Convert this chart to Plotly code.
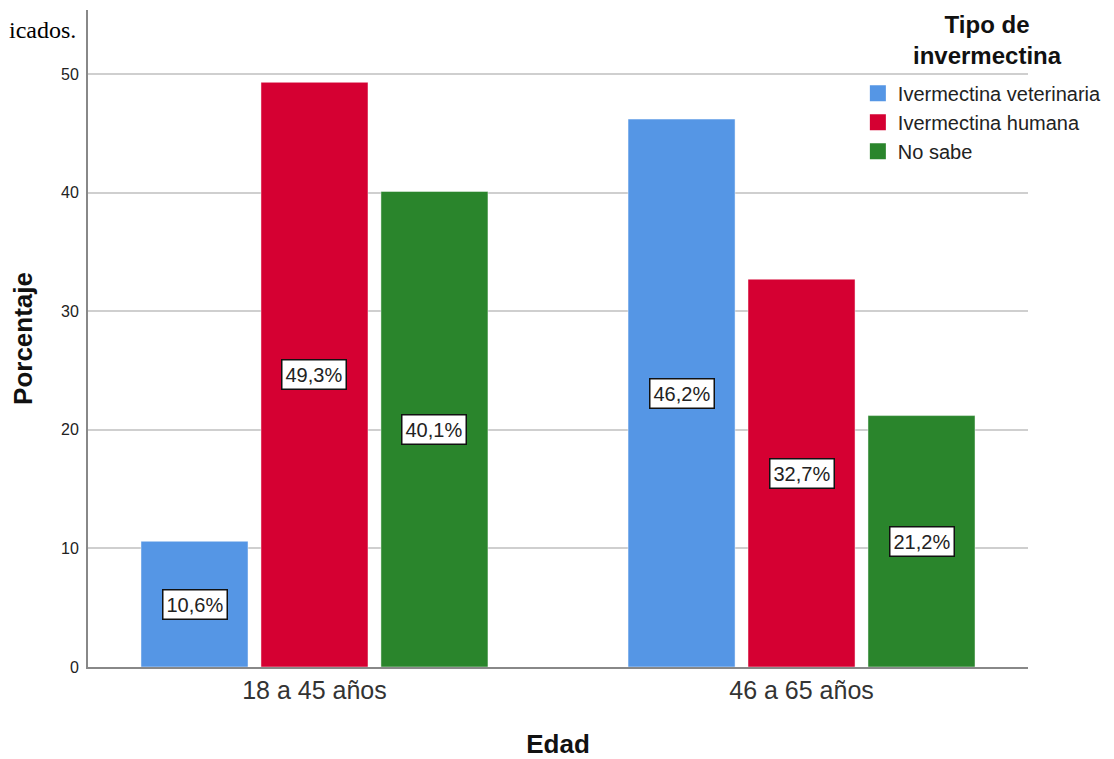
import plotly.graph_objects as go

categories = ["18 a 45 años", "46 a 65 años"]
series_names = ["Ivermectina veterinaria", "Ivermectina humana", "No sabe"]
veterinaria = [10.6, 46.2]
humana = [49.3, 32.7]
no_sabe = [40.1, 21.2]
colors = ["#5596E5", "#D50032", "#2A852C"]
y_ticks = [0, 10, 20, 30, 40, 50]
legend_title = "Tipo de<br>invermectina"

series_values = [veterinaria, humana, no_sabe]
xpos = list(range(len(categories)))

fig = go.Figure()
for name, vals, col in zip(series_names, series_values, colors):
    fig.add_trace(go.Bar(
        x=xpos, y=vals, name=name, showlegend=False,
        marker=dict(color=col, line=dict(color="rgba(255,255,255,0.45)", width=1)),
        hoverinfo="skip",
    ))
# legend swatches (larger squares, like the reference)
for name, col in zip(series_names, colors):
    fig.add_trace(go.Scatter(
        x=[None], y=[None], mode="markers", name=name,
        marker=dict(symbol="square", size=17, color=col),
        hoverinfo="skip",
    ))

bargap = 0.261
bargroupgap = 0.108
slot = (1 - bargap) / len(series_names)
annotations = []
for j, vals in enumerate(series_values):
    for i, v in enumerate(vals):
        annotations.append(dict(
            x=i + (j - (len(series_names) - 1) / 2) * slot, y=v / 2,
            xref="x", yref="y",
            text=f"{v:.1f}%".replace(".", ","),
            showarrow=False,
            font=dict(family="Liberation Sans, Arial", size=20, color="#222"),
            bgcolor="white", bordercolor="#111", borderwidth=1.5, borderpad=3,
        ))
annotations.append(dict(
    x=-0.0106, y=0.9696, xref="paper", yref="paper",
    xanchor="right", yanchor="middle", showarrow=False,
    text="icados.",
    font=dict(family="Liberation Serif, Times New Roman", size=24, color="black"),
))
# legend title (centred two-line block)
annotations.append(dict(
    x=0.957, y=0.9536, xref="paper", yref="paper",
    xanchor="center", yanchor="middle", showarrow=False, align="center",
    text=f"<b>{legend_title}</b>",
    font=dict(family="Liberation Sans, Arial", size=24, color="#111"),
))

fig.update_layout(
    width=1106, height=751,
    margin=dict(l=80, r=86, t=2, b=92, autoexpand=False),
    paper_bgcolor="white", plot_bgcolor="white",
    barmode="group", bargap=bargap, bargroupgap=bargroupgap,
    font=dict(family="Liberation Sans, Arial", color="#222"),
    annotations=annotations,
    legend=dict(
        x=0.819, xanchor="left", y=0.903, yanchor="top",
        bgcolor="rgba(0,0,0,0)", font=dict(size=20, color="#222"),
        tracegroupgap=0,
    ),
    xaxis=dict(
        tickmode="array", tickvals=xpos, ticktext=categories,
        range=[-0.465, 1.465],
        tickfont=dict(size=25, color="#333"),
        title=dict(text="<b>Edad</b>", font=dict(size=26, color="#111"), standoff=32),
        showline=True, linecolor="#888", linewidth=2,
        showgrid=False, ticks="", zeroline=False,
    ),
    yaxis=dict(
        range=[0, 55.4], tickvals=y_ticks,
        tickfont=dict(size=16, color="#222"),
        ticklabelstandoff=4,
        title=dict(text="<b>Porcentaje</b>", font=dict(size=26, color="#111"), standoff=22),
        showline=True, linecolor="#888", linewidth=2,
        showgrid=True, gridcolor="#CFCFCF", gridwidth=1.5,
        ticks="", zeroline=False,
    ),
)

fig.write_html("out.html")
